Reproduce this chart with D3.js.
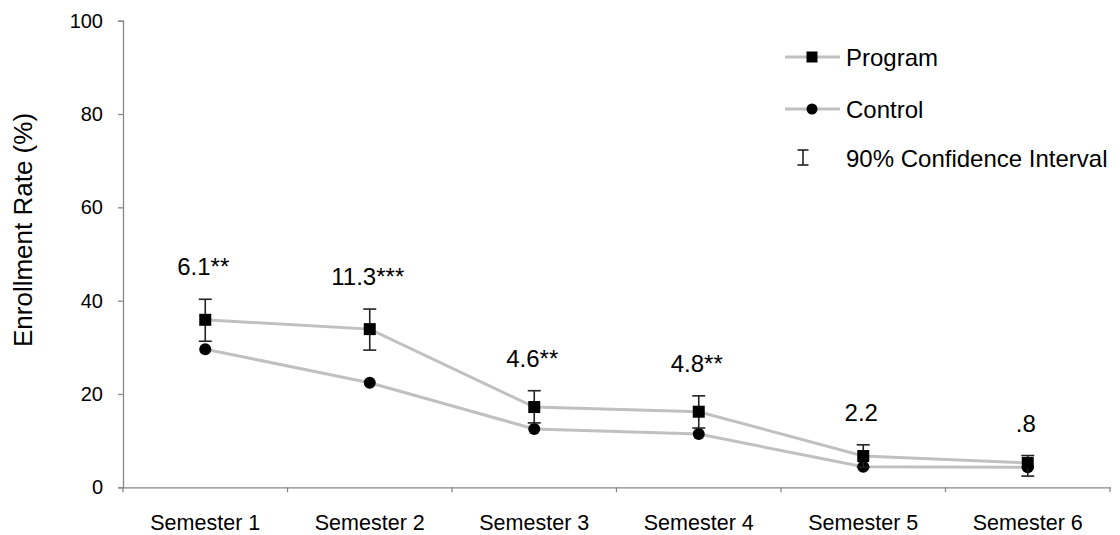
<!DOCTYPE html>
<html>
<head>
<meta charset="utf-8">
<script src="https://cdn.jsdelivr.net/npm/d3@7/dist/d3.min.js"></script>
<style>
  body { margin: 0; background: #fff; }
  svg { font-family: 'Liberation Sans', Arial, sans-serif; }
</style>
</head>
<body>
<div id="plot"></div>
<script>
'use strict';

const categories = ['Semester 1', 'Semester 2', 'Semester 3', 'Semester 4', 'Semester 5', 'Semester 6']
const program = [35.9, 33.9, 17.2, 16.2, 6.7, 5.2]
const control = [29.6, 22.4, 12.5, 11.4, 4.4, 4.3]
const ciLow = [31.3, 29.4, 13.8, 12.7, 4.3, 2.4]
const ciHigh = [40.3, 38.2, 20.7, 19.6, 9.1, 6.8]
const diffLabels = ['6.1**', '11.3***', '4.6**', '4.8**', '2.2', '.8']
const yTicks = [0, 20, 40, 60, 80, 100]

const width = 1120, height = 535
const axisCol = '#888', lineCol = '#c0c0c0'
const font = 'Liberation Sans, Arial'

let svg = d3.select('#plot').append('svg')
  .attr('width', width)
  .attr('height', height)

let x = d3.scaleBand()
  .domain(categories)
  .range([123, 1110])
let y = d3.scaleLinear()
  .domain([0, 100])
  .range([487.3, 20.7])
let cx = d => x(d) + x.bandwidth() / 2

// y axis
let yAxis = svg.append('g')
  .attr('transform', 'translate(123,0)')
  .call(d3.axisLeft(y).tickValues(yTicks).tickSize(5).tickPadding(15))
yAxis.select('.domain').attr('stroke', axisCol).attr('stroke-width', 1.3)
yAxis.selectAll('.tick line').attr('stroke', axisCol).attr('stroke-width', 1.3)
yAxis.selectAll('.tick text').attr('font-size', '20px').attr('fill', '#000').attr('font-family', font)

// x axis
let xAxis = svg.append('g')
  .attr('transform', `translate(0,${y(0)})`)
  .call(d3.axisBottom(x).tickSize(0).tickPadding(27))
xAxis.select('.domain').attr('stroke', axisCol).attr('stroke-width', 1.3)
xAxis.selectAll('.tick text').attr('font-size', '21.5px').attr('fill', '#000').attr('font-family', font)
let bounds = categories.map(d => x(d)).concat([x(categories[categories.length - 1]) + x.bandwidth()])
xAxis.selectAll('line.bound')
  .data(bounds)
  .enter()
  .append('line')
  .attr('x1', d => d).attr('x2', d => d)
  .attr('y1', 0).attr('y2', 5)
  .attr('stroke', axisCol).attr('stroke-width', 1.3)

// axis title
svg.append('text')
  .attr('transform', 'translate(32,230) rotate(-90)')
  .attr('text-anchor', 'middle')
  .attr('font-size', '26px')
  .text('Enrollment Rate (%)')

// lines
let line = d3.line().x((d, i) => cx(categories[i])).y(d => y(d))
svg.append('path').attr('d', line(control)).attr('fill', 'none').attr('stroke', lineCol).attr('stroke-width', 3)
svg.append('path').attr('d', line(program)).attr('fill', 'none').attr('stroke', lineCol).attr('stroke-width', 3)

// control points
svg.append('g').selectAll('circle')
  .data(control)
  .enter()
  .append('circle')
  .attr('cx', (d, i) => cx(categories[i]))
  .attr('cy', d => y(d))
  .attr('r', 6)
  .attr('fill', '#000')

// error bars
let eb = svg.append('g').attr('stroke', '#222').attr('stroke-width', 1.6)
categories.forEach(function(c, i) {
  let xc = cx(c)
  eb.append('line').attr('x1', xc).attr('x2', xc).attr('y1', y(ciLow[i])).attr('y2', y(ciHigh[i]))
  eb.append('line').attr('x1', xc - 6.5).attr('x2', xc + 6.5).attr('y1', y(ciLow[i])).attr('y2', y(ciLow[i]))
  eb.append('line').attr('x1', xc - 6.5).attr('x2', xc + 6.5).attr('y1', y(ciHigh[i])).attr('y2', y(ciHigh[i]))
})

// program points
svg.append('g').selectAll('rect')
  .data(program)
  .enter()
  .append('rect')
  .attr('x', (d, i) => cx(categories[i]) - 6)
  .attr('y', d => y(d) - 6)
  .attr('width', 12)
  .attr('height', 12)
  .attr('fill', '#000')

// difference labels
svg.append('g').selectAll('text')
  .data(diffLabels)
  .enter()
  .append('text')
  .attr('x', (d, i) => cx(categories[i]) - 2)
  .attr('y', (d, i) => y(ciHigh[i]) - 24)
  .attr('text-anchor', 'middle')
  .attr('font-size', '24px')
  .text(d => d)

// legend
let lg = svg.append('g').attr('transform', 'translate(785,57)')
lg.append('line').attr('x1', 0).attr('x2', 55).attr('y1', 0).attr('y2', 0).attr('stroke', lineCol).attr('stroke-width', 3)
lg.append('rect').attr('x', 21.5).attr('y', -5.5).attr('width', 11).attr('height', 11).attr('fill', '#000')
lg.append('text').attr('x', 61).attr('y', 8.5).attr('font-size', '24px').text('Program')
lg.append('line').attr('x1', 0).attr('x2', 55).attr('y1', 52).attr('y2', 52).attr('stroke', lineCol).attr('stroke-width', 3)
lg.append('circle').attr('cx', 27).attr('cy', 52).attr('r', 5.5).attr('fill', '#000')
lg.append('text').attr('x', 61).attr('y', 60.5).attr('font-size', '24px').text('Control')
let ci = lg.append('g').attr('stroke', '#222').attr('stroke-width', 1.6)
ci.append('line').attr('x1', 18).attr('x2', 18).attr('y1', 93).attr('y2', 108)
ci.append('line').attr('x1', 12.5).attr('x2', 23.5).attr('y1', 93).attr('y2', 93)
ci.append('line').attr('x1', 12.5).attr('x2', 23.5).attr('y1', 108).attr('y2', 108)
lg.append('text').attr('x', 61).attr('y', 110).attr('font-size', '24px').text('90% Confidence Interval')
</script>
</body>
</html>
